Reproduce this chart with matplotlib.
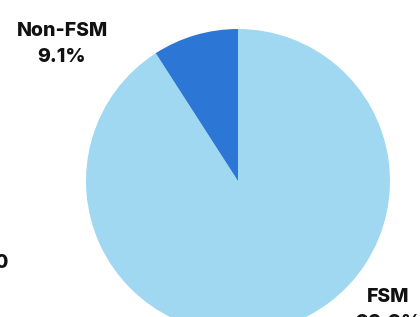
import numpy as np
from matplotlib import pyplot as plt

plt.rcParams['font.family'] = ['Inter', 'DejaVu Sans']

categories = ['FSM', 'Non-FSM']
values = [90.9, 9.1]
colors = ['#A0D8F1', '#2C77D5']

W, H = 420, 317

fig = plt.figure(figsize=(W / 100, H / 100), dpi=100)
ax = fig.add_axes([0, 0, 1, 1])

# pixel-like coords, y up
cx, cy, r = 238, H - 181, 152
ax.pie(values, colors=colors, startangle=90, counterclock=False,
       center=(cx, cy), radius=r, wedgeprops=dict(linewidth=0))
ax.set_xlim(0, W)
ax.set_ylim(0, H)
ax.set_aspect('equal')
ax.axis('off')

labels = [f'{c}\n{v:.1f}%' for c, v in zip(categories, values)]
label_pos = [(388, H - 310), (62, H - 44)]
for lab, (x, y) in zip(labels, label_pos):
    ax.text(x, y, lab, ha='center', va='center', fontsize=14,
            fontweight='heavy', linespacing=1.6, color='#111111')

# clipped text at left edge
ax.text(1, H - 263, '0', ha='center', va='center', fontsize=14,
        fontweight='heavy', color='#111111')

fig.savefig('out.png', dpi=100)
